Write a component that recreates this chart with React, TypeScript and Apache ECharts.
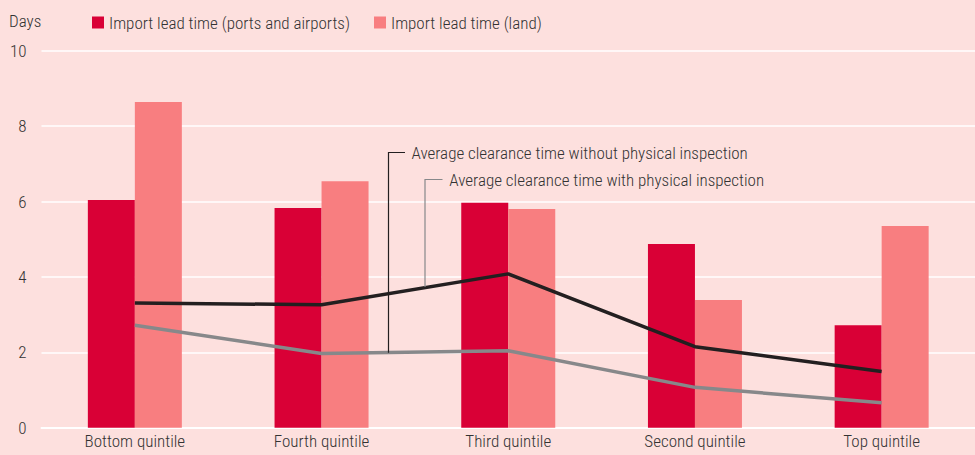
import React, { useEffect, useRef } from "react";
import * as echarts from "echarts";

const categories = ["Bottom quintile", "Fourth quintile", "Third quintile", "Second quintile", "Top quintile"];
const portsAirports = [6.04, 5.83, 5.97, 4.87, 2.72];
const land = [8.64, 6.54, 5.8, 3.39, 5.35];
const withInspection = [3.31, 3.26, 4.08, 2.15, 1.49];
const withoutInspection = [2.72, 1.97, 2.04, 1.07, 0.66];
const yTicks = [0, 2, 4, 6, 8, 10];

const FONT = "'Roboto Condensed', Roboto, sans-serif";
const FS = 17;
const FW = 300;
const TEXT = "#333333";

export default function App() {
  const ref = useRef<HTMLDivElement>(null);
  useEffect(() => {
    if (!ref.current) return;
    const chart = echarts.init(ref.current, undefined, { renderer: "svg" });
    chart.setOption({
      animation: false,
      backgroundColor: "#fde0de",
      textStyle: { fontFamily: FONT },
      title: {
        text: "Days",
        left: 4,
        top: 7,
        textStyle: { fontFamily: FONT, fontSize: FS, fontWeight: FW, color: TEXT },
      },
      legend: {
        data: ["Import lead time (ports and airports)", "Import lead time (land)"],
        left: 87,
        top: 9,
        icon: "rect",
        itemWidth: 12,
        itemHeight: 12,
        itemGap: 24,
        textStyle: { fontFamily: FONT, fontSize: FS, fontWeight: FW, color: TEXT },
      },
      grid: { left: 41.5, top: 50.7, width: 937, bottom: 27.3, containLabel: false },
      xAxis: {
        type: "category",
        data: categories,
        axisLine: { lineStyle: { color: "#ffffff", width: 2 } },
        axisTick: { show: false },
        axisLabel: { fontFamily: FONT, fontSize: FS, fontWeight: FW, color: TEXT, margin: 5 },
      },
      yAxis: {
        type: "value",
        min: yTicks[0],
        max: yTicks[yTicks.length - 1],
        interval: 2,
        axisLine: { show: false },
        axisTick: { show: false },
        axisLabel: { fontFamily: FONT, fontSize: FS, fontWeight: FW, color: TEXT, margin: 15 },
        splitLine: { lineStyle: { color: "#ffffff", width: 1.5 } },
      },
      series: [
        {
          name: "Import lead time (ports and airports)",
          type: "bar",
          data: portsAirports,
          barWidth: 47,
          barGap: "0%",
          itemStyle: { color: "#d90036" },
        },
        {
          name: "Import lead time (land)",
          type: "bar",
          data: land,
          barWidth: 47,
          barGap: "0%",
          itemStyle: { color: "#f87e80" },
        },
        {
          name: "Average clearance time with physical inspection",
          type: "line",
          data: withInspection,
          symbol: "none",
          lineStyle: { color: "#231f20", width: 3.5 },
          z: 5,
        },
        {
          name: "Average clearance time without physical inspection",
          type: "line",
          data: withoutInspection,
          symbol: "none",
          lineStyle: { color: "#87888a", width: 3.5 },
          z: 5,
        },
      ],
      graphic: [
        { type: "polyline", shape: { points: [[405, 152.5], [388.5, 152.5], [388.5, 352.7]] }, style: { stroke: "#231f20", lineWidth: 1.2, fill: null }, z: 10 },
        { type: "text", x: 411.5, y: 152.5, style: { text: "Average clearance time without physical inspection", fontFamily: FONT, fontSize: FS, fontWeight: FW, fill: TEXT, verticalAlign: "middle" }, z: 10 },
        { type: "polyline", shape: { points: [[442.5, 179.5], [425, 179.5], [425, 287]] }, style: { stroke: "#87888a", lineWidth: 1.2, fill: null }, z: 10 },
        { type: "text", x: 449.3, y: 179.5, style: { text: "Average clearance time with physical inspection", fontFamily: FONT, fontSize: FS, fontWeight: FW, fill: TEXT, verticalAlign: "middle" }, z: 10 },
      ],
    });
    return () => chart.dispose();
  }, []);
  return <div ref={ref} style={{ position: "fixed", left: 0, top: 0, width: 975, height: 455 }} />;
}
